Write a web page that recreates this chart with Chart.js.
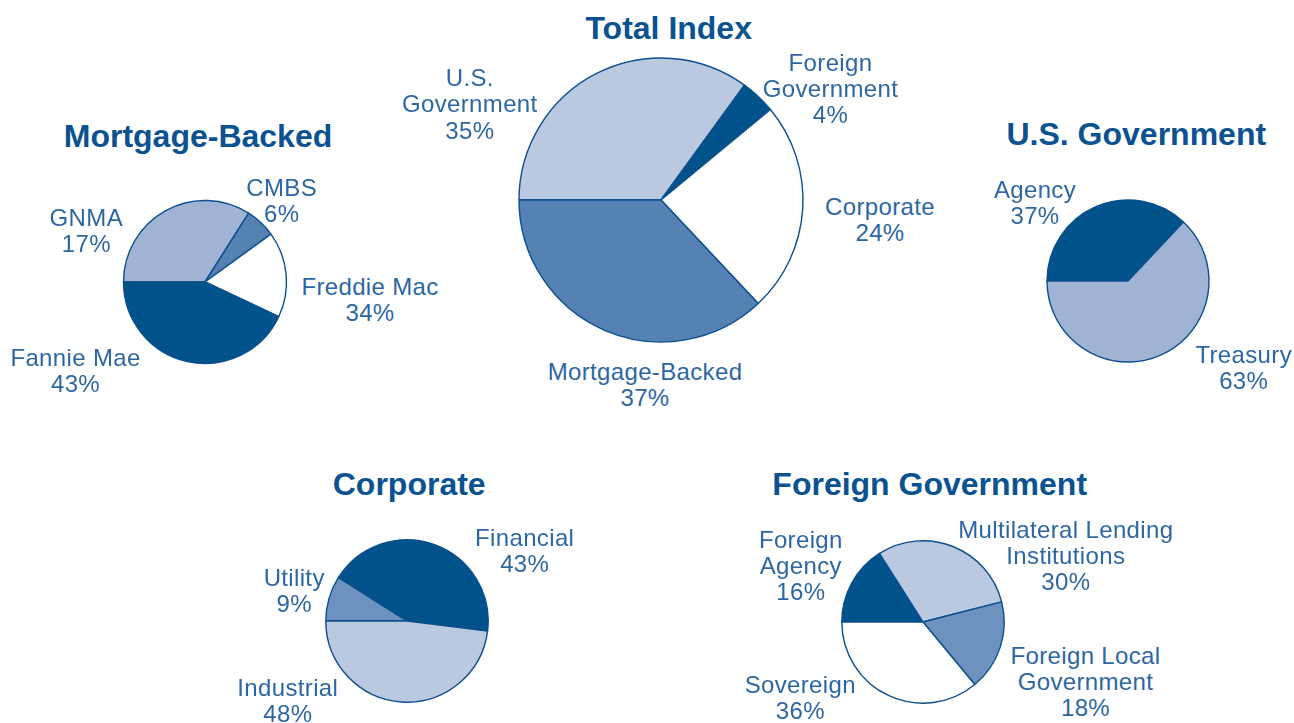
<!DOCTYPE html>
<html>
<head>
<meta charset="utf-8">
<script src="https://cdn.jsdelivr.net/npm/chart.js@4/dist/chart.umd.min.js"></script>
<style>
  html, body { margin: 0; padding: 0; background: #fff; }
  #page { position: relative; width: 1294px; height: 723px; overflow: hidden; }
  #page canvas { position: absolute; }
  .title {
    position: absolute; white-space: nowrap; transform: translateX(-50%);
    font-family: "Liberation Sans", Arial, sans-serif; font-weight: bold;
    font-size: 32px; line-height: 36px; color: #0b5291; text-align: center;
  }
  .lbl {
    position: absolute; white-space: nowrap; transform: translateX(-50%);
    font-family: "Liberation Sans", Arial, sans-serif; font-weight: normal;
    font-size: 24px; line-height: 26.3px; letter-spacing: 0.35px;
    color: #2d67a3; text-align: center;
  }
</style>
</head>
<body>
<div id="page"></div>

<script>
// ---- data (slice order = clockwise from 9 o'clock) ----
const totalNames = ['U.S.\nGovernment', 'Foreign\nGovernment', 'Corporate', 'Mortgage-Backed'];
const totalValues = [35, 4, 24, 37];

const mbNames = ['GNMA', 'CMBS', 'Freddie Mac', 'Fannie Mae'];
const mbValues = [34, 6, 17, 43];      // slice sizes as drawn
const mbPrinted = [17, 6, 34, 43];     // percentages as printed next to them

const usgNames = ['Agency', 'Treasury'];
const usgValues = [37, 63];

const corpNames = ['Utility', 'Financial', 'Industrial'];
const corpValues = [9, 43, 48];

const fgNames = ['Foreign\nAgency', 'Multilateral Lending\nInstitutions', 'Foreign Local\nGovernment', 'Sovereign'];
const fgValues = [16, 30, 18, 36];

// ---- colours ----
const DARK = '#02528c', LIGHT = '#bbc9e0', MID = '#5581b3', LMID = '#a0b3d4', MID2 = '#6d92bf', WHITE = '#ffffff';
const EDGE = '#0b4f8c';

const page = document.getElementById('page');

function makePie(cx, cy, r, values, colors) {
  const s = 2 * Math.ceil(r) + 8;
  const cv = document.createElement('canvas');
  cv.width = s; cv.height = s;
  cv.style.width = s + 'px'; cv.style.height = s + 'px';
  cv.style.left = (cx - s / 2) + 'px';
  cv.style.top = (cy - s / 2) + 'px';
  page.appendChild(cv);
  new Chart(cv, {
    type: 'pie',
    data: {
      labels: values.map((v, i) => i),
      datasets: [{
        data: values,
        backgroundColor: colors,
        borderColor: EDGE,
        borderWidth: 1.4
      }]
    },
    options: {
      responsive: false,
      animation: false,
      radius: r,
      rotation: 270,
      layout: { padding: 0 },
      plugins: { legend: { display: false }, tooltip: { enabled: false } }
    }
  });
}

function addTitle(text, cx, baseline) {
  const d = document.createElement('div');
  d.className = 'title';
  d.textContent = text;
  d.style.left = cx + 'px';
  d.style.top = (baseline - 29.1) + 'px';
  page.appendChild(d);
}

function addLabels(names, pcts, spots) {
  names.forEach((n, i) => {
    const d = document.createElement('div');
    d.className = 'lbl';
    d.innerHTML = n.split('\n').concat([pcts[i] + '%']).join('<br>');
    d.style.left = spots[i][0] + 'px';
    d.style.top = (spots[i][1] - 21.5) + 'px';
    page.appendChild(d);
  });
}

// Total Index
makePie(660.5, 200, 142, totalValues, [LIGHT, DARK, WHITE, MID]);
addTitle('Total Index', 668.7, 39.3);
addLabels(totalNames, totalValues, [[469.8, 86.7], [830.5, 71], [880, 215], [645, 380]]);

// Mortgage-Backed
makePie(205, 282, 81.5, mbValues, [LMID, MID, WHITE, DARK]);
addTitle('Mortgage-Backed', 198, 146.7);
addLabels(mbNames, mbPrinted, [[86.3, 226], [281.7, 196], [370, 295], [75.5, 366.7]]);

// U.S. Government
makePie(1127.5, 280.5, 81, usgValues, [DARK, LMID]);
addTitle('U.S. Government', 1136.3, 145);
addLabels(usgNames, usgValues, [[1035, 198.3], [1243.7, 363.3]]);

// Corporate
makePie(407, 620.5, 81.2, corpValues, [MID2, DARK, LIGHT]);
addTitle('Corporate', 409.2, 495);
addLabels(corpNames, corpValues, [[294.2, 586], [524.7, 546], [287.8, 696]]);

// Foreign Government
makePie(922.5, 622, 81.2, fgValues, [DARK, LIGHT, MID2, WHITE]);
addTitle('Foreign Government', 929.7, 495);
addLabels(fgNames, fgValues, [[800.8, 548.3], [1065.8, 538.3], [1085.5, 664], [800.3, 693.3]]);
</script>
</body>
</html>
